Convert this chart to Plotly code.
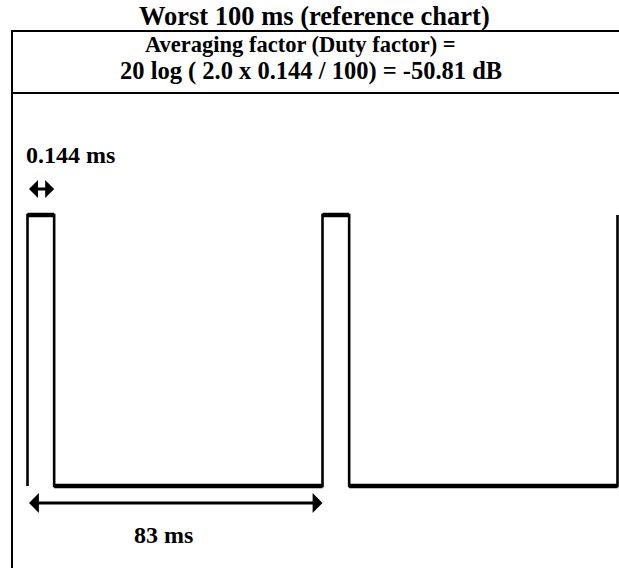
import plotly.graph_objects as go

# ---- data (schematic time axis, ms) ----
period_ms = 83            # spacing between pulse starts
pulse_label_ms = 0.144    # real pulse width (label)
pulse_drawn_ms = 7.5      # schematic (exaggerated) drawn pulse width
rise_times = [0, 83, 166]
levels = [0, 1]           # low / high

title_text = "Worst 100 ms (reference chart)"
header_lines = ["Averaging factor (Duty factor) =",
                "20 log ( 2.0 x 0.144 / 100) = -50.81 dB"]
pulse_label = "0.144 ms"
period_label = "83 ms"

# ---- build waveform from the edges ----
wave_t, wave_y = [], []
for i, r in enumerate(rise_times):
    wave_t += [r, r]
    wave_y += [levels[0], levels[1]]
    if i < len(rise_times) - 1:
        f = r + pulse_drawn_ms
        wave_t += [f, f]
        wave_y += [levels[1], levels[0]]

# horizontal segments (drawn thicker)
h_t, h_y = [], []
for i in range(len(wave_t) - 1):
    if wave_y[i] == wave_y[i + 1] and wave_t[i] != wave_t[i + 1]:
        h_t += [wave_t[i], wave_t[i + 1], None]
        h_y += [wave_y[i], wave_y[i + 1], None]

W, H = 619, 568
px_per_ms = 590 / 166
x0_px = 27.5
xr = [-x0_px / px_per_ms, (W - x0_px) / px_per_ms]
low_px, high_px = 486, 215
px_per_unit = low_px - high_px
yr = [(low_px - H) / px_per_unit, low_px / px_per_unit]

def py(pix):
    return 1 - pix / H

def px(pix):
    return pix / W

fig = go.Figure()
fig.add_trace(go.Scatter(x=wave_t, y=wave_y, mode="lines",
                         line=dict(color="black", width=2.6),
                         hoverinfo="skip", showlegend=False))
fig.add_trace(go.Scatter(x=h_t, y=h_y, mode="lines",
                         line=dict(color="black", width=4.5),
                         hoverinfo="skip", showlegend=False))

def font(size):
    return dict(family="Liberation Serif", size=size, color="black", weight="bold")

ann = []
ann.append(dict(xref="paper", yref="paper", x=px(314), y=py(15.5), text=title_text,
                showarrow=False, font=font(26.5), xanchor="center", yanchor="middle"))
ann.append(dict(xref="paper", yref="paper", x=px(300), y=py(44), text=header_lines[0],
                showarrow=False, font=font(22.5), xanchor="center", yanchor="middle"))
ann.append(dict(xref="paper", yref="paper", x=px(311), y=py(71), text=header_lines[1],
                showarrow=False, font=font(24.5), xanchor="center", yanchor="middle"))
ann.append(dict(xref="paper", yref="paper", x=px(24), y=py(155), text=pulse_label,
                showarrow=False, font=font(24), xanchor="left", yanchor="middle"))
ann.append(dict(xref="paper", yref="paper", x=px(163), y=py(535), text=period_label,
                showarrow=False, font=font(24), xanchor="center", yanchor="middle"))

# double-headed arrows
y_small = (low_px - 189) / px_per_unit
ann.append(dict(x=rise_times[0] + pulse_drawn_ms, y=y_small, ax=rise_times[0], ay=y_small,
                xref="x", yref="y", axref="x", ayref="y", text="", showarrow=True,
                arrowhead=1, startarrowhead=1, arrowside="end+start",
                arrowwidth=3, arrowsize=1.0, startarrowsize=1.0,
                standoff=0, startstandoff=0, arrowcolor="black"))
y_big = (low_px - 503) / px_per_unit
ann.append(dict(x=rise_times[0] + period_ms, y=y_big, ax=rise_times[0], ay=y_big,
                xref="x", yref="y", axref="x", ayref="y", text="", showarrow=True,
                arrowhead=1, startarrowhead=1, arrowside="end+start",
                arrowwidth=3.2, arrowsize=1.03, startarrowsize=1.03,
                standoff=0, startstandoff=0, arrowcolor="black"))

shapes = [
    dict(type="line", xref="paper", yref="paper", x0=px(12), x1=px(12), y0=py(31), y1=py(H),
         line=dict(color="black", width=2)),
    dict(type="line", xref="paper", yref="paper", x0=px(11), x1=1, y0=py(31), y1=py(31),
         line=dict(color="black", width=2)),
    dict(type="line", xref="paper", yref="paper", x0=px(12), x1=1, y0=py(93), y1=py(93),
         line=dict(color="black", width=2)),
]

fig.update_layout(
    width=W, height=H,
    margin=dict(l=0, r=0, t=0, b=0),
    paper_bgcolor="white", plot_bgcolor="white",
    xaxis=dict(range=xr, visible=False, fixedrange=True),
    yaxis=dict(range=yr, visible=False, fixedrange=True),
    annotations=ann, shapes=shapes, showlegend=False,
)
fig.write_html("out.html",
               post_script="document.body.style.margin='0';document.body.style.overflow='hidden';",
               config={"displayModeBar": False})
